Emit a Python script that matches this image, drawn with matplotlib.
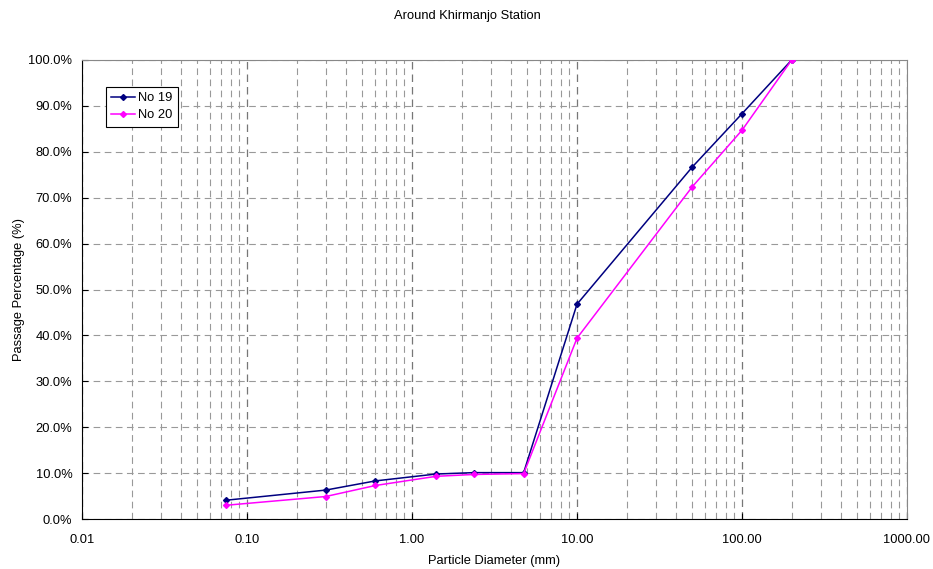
import matplotlib
matplotlib.use("Agg")
import matplotlib.pyplot as plt
from matplotlib.ticker import FixedLocator, FuncFormatter, LogLocator

plt.rcParams['font.family'] = ['Liberation Sans', 'DejaVu Sans']

# sieve sizes (mm) and passing percentages
diameter = [0.075, 0.3, 0.6, 1.4, 2.36, 4.75, 10, 50, 100, 200]
no19 = [4.1, 6.3, 8.3, 9.8, 10.1, 10.1, 46.8, 76.7, 88.3, 100.0]
no20 = [3.0, 4.9, 7.3, 9.3, 9.7, 9.9, 39.4, 72.4, 84.7, 100.0]

x_ticks = [0.01, 0.1, 1, 10, 100, 1000]
y_ticks = list(range(0, 101, 10))

fs = 9.3
fig = plt.figure(figsize=(9.33, 5.69), dpi=100)
ax = fig.add_axes([82/933, 1-519/569, (907-82)/933, (519-60)/569])

ax.plot(diameter, no19, color='#000080', marker='D', markersize=3,
        linewidth=1.1, label='No 19', zorder=3)
ax.plot(diameter, no20, color='#ff00ff', marker='D', markersize=3,
        linewidth=1.1, label='No 20', zorder=3)

ax.set_xscale('log')
ax.set_xlim(0.01, 1000)
ax.set_ylim(0, 100)
ax.xaxis.set_major_locator(FixedLocator(x_ticks))
ax.xaxis.set_minor_locator(LogLocator(base=10, subs=range(2, 10)))
ax.xaxis.set_major_formatter(FuncFormatter(lambda v, p: '%.2f' % v))
ax.xaxis.set_minor_formatter(FuncFormatter(lambda v, p: ''))
ax.yaxis.set_major_locator(FixedLocator(y_ticks))
ax.yaxis.set_major_formatter(FuncFormatter(lambda v, p: '%.1f%%' % v))

ax.grid(which='major', axis='x', color='#777777', linestyle=(0, (6, 4)), linewidth=0.9)
ax.grid(which='minor', axis='x', color='#999999', linestyle=(0, (6, 4)), linewidth=0.8)
ax.grid(which='major', axis='y', color='#999999', linestyle=(0, (6, 4)), linewidth=0.8)

ax.tick_params(which='major', direction='in', length=4, labelsize=fs, colors='black')
ax.tick_params(axis='x', which='major', pad=11)
ax.tick_params(axis='y', which='major', pad=7)
ax.tick_params(which='minor', length=0)
for side in ['top', 'right']:
    ax.spines[side].set_color('#888888')
for side in ['left', 'bottom']:
    ax.spines[side].set_color('black')

fig.text(467/933, 1-16/569, 'Around Khirmanjo Station', fontsize=fs,
         ha='center', va='center')
ax.set_xlabel('Particle Diameter (mm)', fontsize=fs, labelpad=6)
ax.set_ylabel('Passage Percentage (%)', fontsize=fs, labelpad=2)

leg = ax.legend(loc='upper left', bbox_to_anchor=(0.029, 0.941), borderaxespad=0,
                fontsize=fs, fancybox=False, framealpha=1, edgecolor='black',
                borderpad=0.4, handlelength=1.85, handletextpad=0.25,
                labelspacing=0.4)
leg.get_frame().set_linewidth(0.8)

fig.savefig('out.png', dpi=100)
